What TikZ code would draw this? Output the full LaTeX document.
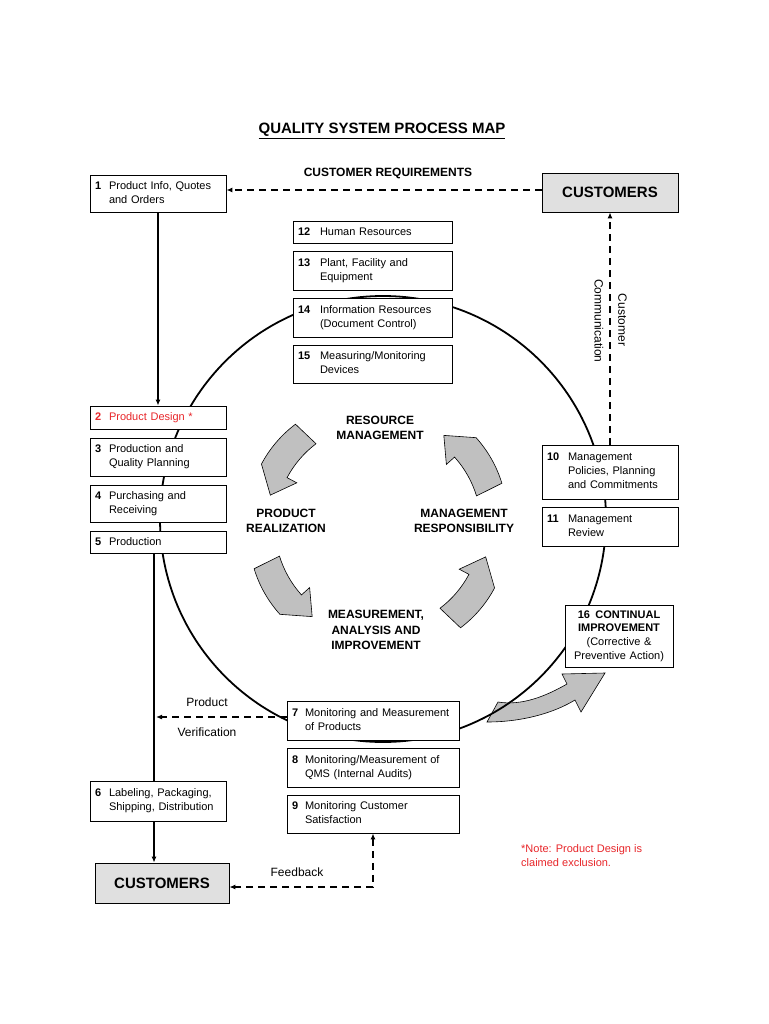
\documentclass[tikz,border=0pt]{standalone}
\usepackage{fontspec}
\setmainfont{Liberation Sans}
\usetikzlibrary{arrows.meta,calc}
\definecolor{myred}{RGB}{232,38,42}
\definecolor{custgray}{RGB}{224,224,224}
\definecolor{arrgray}{RGB}{192,192,192}
\newcommand{\nb}[2]{\makebox[#2][l]{\textbf{#1}}}
\newcommand{\tl}[1]{\begin{tabular}[t]{@{}l@{}}#1\end{tabular}}
\def\cRm{112}\def\cHw{9}\def\cHW{20}\def\cHa{12}
\newcommand{\cyclearrow}[2]{%
  \draw[blk] ({#1}:{\cRm-\cHw}) arc[start angle={#1}, end angle={#2-\cHa}, radius={\cRm-\cHw}]
    -- ({#2-\cHa}:{\cRm-\cHW}) -- ({#2}:{\cRm}) -- ({#2-\cHa}:{\cRm+\cHW})
    arc[start angle={#2-\cHa}, end angle={#1}, radius={\cRm+\cHw}] -- cycle;}
\begin{document}
\begin{tikzpicture}[x=1pt,y=-1pt,
  box/.style={draw, line width=0.8pt, fill=white, inner xsep=5pt, inner ysep=0pt, align=left,
    font=\fontsize{11}{13.8}\selectfont},
  colL/.style={box, text width=126pt},
  colM/.style={box, text width=149pt},
  colB/.style={box, text width=162pt},
  colR/.style={box, text width=126pt},
  custbox/.style={draw, line width=0.8pt, fill=custgray, minimum width=136pt, minimum height=39pt,
    font=\fontsize{15}{18}\selectfont\bfseries},
  blk/.style={fill=arrgray, draw=black, line width=0.6pt},
  conn/.style={line width=1.6pt},
  arr/.style={conn, -{Latex[length=6pt,width=5pt]}},
  dconn/.style={line width=1.8pt, dash pattern=on 7pt off 5pt, -{Latex[length=6pt,width=5pt]}},
  lbl/.style={font=\fontsize{12}{14}\selectfont},
  head/.style={font=\fontsize{12}{15.5}\selectfont\bfseries, align=center}]
\useasboundingbox (0,0) rectangle (768,1024);
\fill[white] (0,0) rectangle (768,1024);

% title
\node (title) at (382,131) {\fontsize{15}{18}\selectfont\bfseries\underline{QUALITY SYSTEM PROCESS MAP}};

% big arrow 7 -> 16
\draw[blk] (498,702) .. controls (522,706) and (546,696) .. (567,684) -- (562,674) -- (605,673)
  -- (581,712) -- (575,700) .. controls (552,714) and (520,722) .. (487,722) -- cycle;

% main circle
\draw[line width=1.8pt] (383,519) circle[radius=223];

% inner cycle arrows
\begin{scope}[shift={(378,526)}]
\begin{scope}[y=1pt]
\cyclearrow{127}{164}
\cyclearrow{197}{234}
\cyclearrow{307}{344}
\cyclearrow{17}{54}
\end{scope}
\end{scope}

% center labels
\node[head] (rm) at (380,428) {RESOURCE\\MANAGEMENT};
\node[head] (pr) at (286,521) {PRODUCT\\REALIZATION};
\node[head] (mr) at (464,521) {MANAGEMENT\\RESPONSIBILITY};
\node[head] (mai) at (376,630) {MEASUREMENT,\\ANALYSIS AND\\IMPROVEMENT};

% customers
\node[custbox] (custTop) at (610,192.5) {CUSTOMERS};
\node[custbox, minimum width=134pt, minimum height=40pt] (custBot) at (162,883) {CUSTOMERS};

% left column
\node[colL, minimum height=37pt] (b1) at (158,193.5) {\nb{1}{14pt}\tl{Product Info, Quotes\\and Orders}};
\node[colL, minimum height=23pt, text=myred] (b2) at (158,417.5) {\nb{2}{14pt}Product Design *};
\node[colL, minimum height=38pt] (b3) at (158,457) {\nb{3}{14pt}\tl{Production and\\Quality Planning}};
\node[colL, minimum height=37pt] (b4) at (158,503.5) {\nb{4}{14pt}\tl{Purchasing and\\Receiving}};
\node[colL, minimum height=22pt] (b5) at (158,542) {\nb{5}{14pt}Production};
\node[colL, minimum height=40pt] (b6) at (158,801) {\nb{6}{14pt}\tl{Labeling, Packaging,\\Shipping, Distribution}};

% middle top column
\node[colM, minimum height=22pt] (b12) at (372.5,232) {\nb{12}{22pt}Human Resources};
\node[colM, minimum height=39pt] (b13) at (372.5,270.5) {\nb{13}{22pt}\tl{Plant, Facility and\\Equipment}};
\node[colM, minimum height=39pt] (b14) at (372.5,317.5) {\nb{14}{22pt}\tl{Information Resources\\(Document Control)}};
\node[colM, minimum height=38pt] (b15) at (372.5,364) {\nb{15}{22pt}\tl{Measuring/Monitoring\\Devices}};

% bottom middle column
\node[colB, minimum height=39pt] (b7) at (373,720.5) {\nb{7}{13pt}\tl{Monitoring and Measurement\\of Products}};
\node[colB, minimum height=39pt] (b8) at (373,767.5) {\nb{8}{13pt}\tl{Monitoring/Measurement of\\QMS (Internal Audits)}};
\node[colB, minimum height=38pt] (b9) at (373,814) {\nb{9}{13pt}\tl{Monitoring Customer\\Satisfaction}};

% right column
\node[colR, minimum height=54pt] (b10) at (610,472) {\nb{10}{21pt}\tl{Management\\Policies, Planning\\and Commitments}};
\node[colR, minimum height=39pt] (b11) at (610,526.5) {\nb{11}{21pt}\tl{Management\\Review}};
\node[box, align=center, text width=98pt, minimum height=62pt] (b16) at (619,636)
  {{\bfseries 16\enspace CONTINUAL}\\{\bfseries IMPROVEMENT}\\(Corrective \&\\Preventive Action)};

% connectors
\draw[arr] (b1.south) -- (b2.north);
\draw[conn] ([xshift=-4pt]b5.south) -- ([xshift=-4pt]b6.north);
\draw[arr] ([xshift=-4pt]b6.south) -- ([xshift=-4pt]b6.south |- custBot.north);
\draw[dconn] ([yshift=2.5pt]custTop.west) -- ([yshift=2.5pt]custTop.west -| b1.east);
\draw[dconn] (b10.north) -- (custTop.south);
\coordinate (pvend) at (156,717);
\draw[dconn] ([yshift=3.5pt]b7.west) -- (pvend);
\draw[dconn, {Latex[length=6pt,width=5pt]}-{Latex[length=6pt,width=5pt]}] (b9.south) |- ([yshift=-4pt]custBot.east);

% labels
\node[head, font=\fontsize{12}{14}\selectfont\bfseries] (creq) at (388,173) {CUSTOMER REQUIREMENTS};
\node[lbl] (lprod) at (207,702) {Product};
\node[lbl] (lver) at (207,732) {Verification};
\node[lbl] (lfb) at (297,872) {Feedback};
\node[lbl, rotate=-90] (lcust) at (622.5,320) {Customer};
\node[lbl, rotate=-90] (lcomm) at (599,321) {Communication};
\node[anchor=north west, text=myred, align=left, font=\fontsize{11}{14}\selectfont, inner sep=0pt] (note) at (521,844)
  {*Note: Product Design is\\claimed exclusion.};
\end{tikzpicture}
\end{document}
